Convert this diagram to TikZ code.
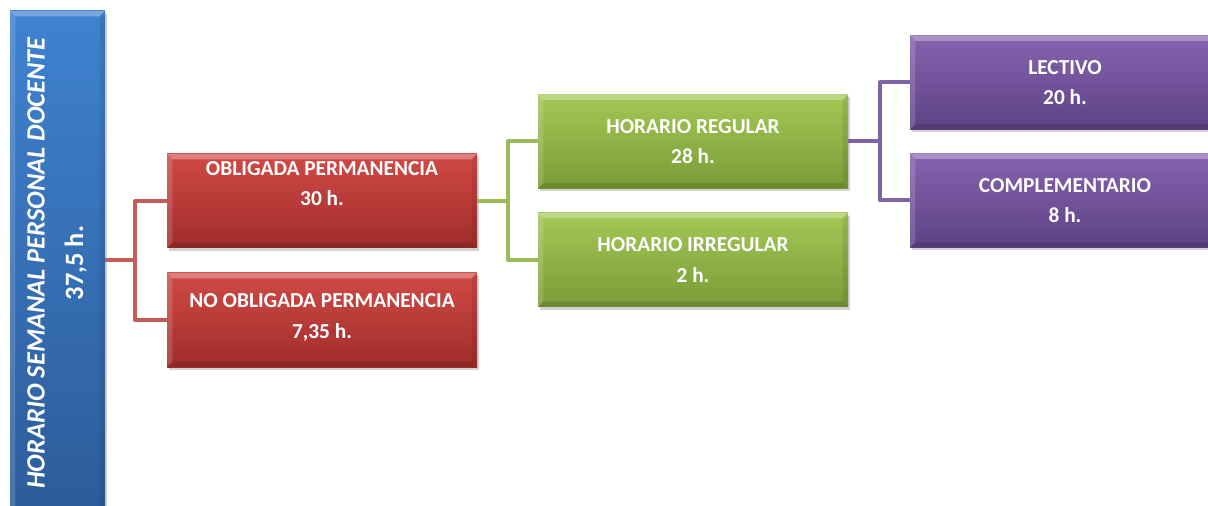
\documentclass[tikz,border=0pt]{standalone}
\usepackage{fontspec}
\setmainfont{Carlito}
\usepackage{tikz}
\usetikzlibrary{shadows}

\definecolor{bluetop}{HTML}{3F82D0}
\definecolor{bluebot}{HTML}{2C5B98}
\definecolor{redtop}{HTML}{D04A46}
\definecolor{redbot}{HTML}{A12D2A}
\definecolor{greentop}{HTML}{A3C855}
\definecolor{greenbot}{HTML}{7A9B37}
\definecolor{purptop}{HTML}{8663AF}
\definecolor{purpbot}{HTML}{5E4285}
\definecolor{redline}{HTML}{C65A57}
\definecolor{greenline}{HTML}{9BBB59}
\definecolor{purpline}{HTML}{8064A2}

\begin{document}
\begin{tikzpicture}[x=0.75pt,y=-0.75pt,
    box/.style={rectangle,inner sep=0pt,minimum width=310*0.75pt,minimum height=94*0.75pt,
      drop shadow={opacity=0.35,shadow xshift=1.5pt,shadow yshift=-2pt},
      path picture={
        \fill[white,opacity=0.3] (path picture bounding box.north west) -- (path picture bounding box.north east)
          -- ([xshift=-4pt,yshift=-4pt]path picture bounding box.north east) -- ([xshift=4pt,yshift=-4pt]path picture bounding box.north west) -- cycle;
        \fill[white,opacity=0.15] (path picture bounding box.north west) -- ([xshift=4pt,yshift=-4pt]path picture bounding box.north west)
          -- ([xshift=4pt,yshift=4pt]path picture bounding box.south west) -- (path picture bounding box.south west) -- cycle;
        \fill[black,opacity=0.12] (path picture bounding box.south west) -- (path picture bounding box.south east)
          -- ([xshift=-4pt,yshift=4pt]path picture bounding box.south east) -- ([xshift=4pt,yshift=4pt]path picture bounding box.south west) -- cycle;
        \fill[black,opacity=0.08] (path picture bounding box.north east) -- ([xshift=-4pt,yshift=-4pt]path picture bounding box.north east)
          -- ([xshift=-4pt,yshift=4pt]path picture bounding box.south east) -- (path picture bounding box.south east) -- cycle;
      }},
    redbox/.style={box,top color=redtop,bottom color=redbot},
    greenbox/.style={box,top color=greentop,bottom color=greenbot},
    purpbox/.style={box,top color=purptop,bottom color=purpbot},
    bluebox/.style={box,top color=bluetop,bottom color=bluebot,minimum width=95*0.75pt,minimum height=519*0.75pt},
    boxtext/.style={text=white,align=center,font=\bfseries\fontsize{16}{23}\selectfont},
    link/.style={line width=3pt,line join=round}]
    \useasboundingbox (0,0) rectangle (1208,506);

    % Draw the boxes
    \node [bluebox] (hor) at (57.5,270.5) {};
    \node [redbox] (obl) at (322,201) {};
    \node [redbox] (nobl) at (322,320) {};
    \node [greenbox] (reg) at (693,141.5) {};
    \node [greenbox] (irr) at (693,260) {};
    \node [purpbox] (lec) at (1065,82.5) {};
    \node [purpbox] (com) at (1065,200.5) {};

    % Box texts
    \node [text=white,align=center,rotate=90,font=\bfseries\fontsize{19.8}{29}\selectfont] (hort) at (57,263)
      {{\bfseries\itshape HORARIO SEMANAL PERSONAL DOCENTE}\\37,5 h.};
    \node [boxtext,yshift=13pt] (oblt) at (obl.center) {OBLIGADA PERMANENCIA\\30 h.};
    \node [boxtext,yshift=2pt] (noblt) at (nobl.center) {NO OBLIGADA PERMANENCIA\\7,35 h.};
    \node [boxtext] (regt) at (reg.center) {HORARIO REGULAR\\28 h.};
    \node [boxtext] (irrt) at (irr.center) {HORARIO IRREGULAR\\2 h.};
    \node [boxtext] (lect) at (lec.center) {LECTIVO\\20 h.};
    \node [boxtext] (comt) at (com.center) {COMPLEMENTARIO\\8 h.};

    % Draw the connectors
    \coordinate (fa) at (135,260);
    \coordinate (fb) at (508,201);
    \coordinate (fc) at (880,141.5);
    \draw [link,redline] (hor.east |- fa) -- (fa) |- (obl.west);
    \draw [link,redline] (fa) |- (nobl.west);
    \draw [link,greenline] (obl.east) -- (fb) |- (reg.west);
    \draw [link,greenline] (fb) |- (irr.west);
    \draw [link,purpline] (reg.east) -- (fc) |- (lec.west);
    \draw [link,purpline] (fc) |- (com.west);
\end{tikzpicture}
\end{document}
